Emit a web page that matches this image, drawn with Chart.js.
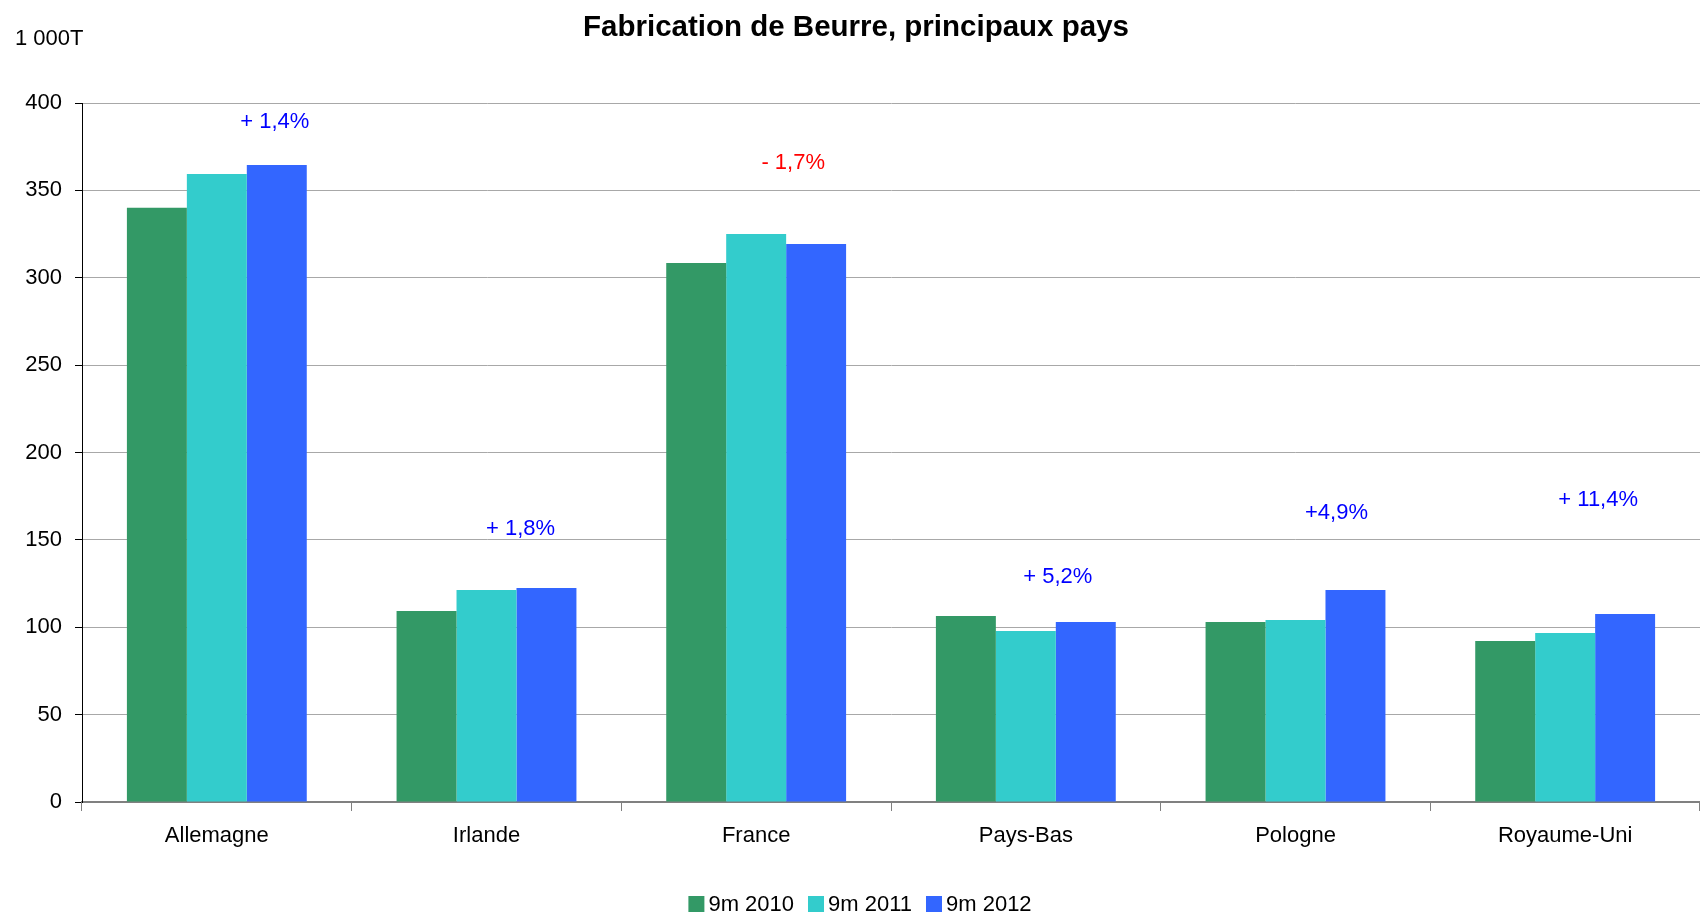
<!DOCTYPE html>
<html lang="fr">
<head>
<meta charset="utf-8">
<title>Fabrication de Beurre, principaux pays</title>
<script src="https://cdn.jsdelivr.net/npm/chart.js@4.4.1/dist/chart.umd.min.js"></script>
<style>
    html, body { margin: 0; padding: 0; background: #fff; }
    #wrap { width: 1700px; height: 916px; }
</style>
</head>
<body>
<div id="wrap"><canvas id="beurre" width="1700" height="916"></canvas></div>
<script>
// Production de beurre sur 9 mois, en milliers de tonnes
const pays = ["Allemagne", "Irlande", "France", "Pays-Bas", "Pologne", "Royaume-Uni"];
const series = ["9m 2010", "9m 2011", "9m 2012"];
const prod2010 = [340, 109.3, 308.4, 106.4, 103, 92.1];
const prod2011 = [359.4, 121.3, 325, 97.9, 104.1, 96.7];
const prod2012 = [364.5, 122.5, 319.3, 103, 121.3, 107.6];
const yTicks = [0, 50, 100, 150, 200, 250, 300, 350, 400];

// évolution 2012 / 2011, et hauteur (en 1000T) où l'écrire
const evolution = ["+ 1,4%", "+ 1,8%", "- 1,7%", "+ 5,2%", "+4,9%", "+ 11,4%"];
const evolutionAt = [389, 156, 365.7, 128.8, 165.4, 172.8];
const evolutionDx = [58, 34, 37, 32, 41, 33];

const couleurs = ["#339966", "#33cccc", "#3366ff"];
const FONT = "Liberation Sans, Arial, sans-serif";

const annotations = {
    id: "annotations",
    afterDraw(chart) {
        const ctx = chart.ctx;
        const x = chart.scales.x;
        const y = chart.scales.y;
        ctx.save();

        // titre
        ctx.fillStyle = "#000";
        ctx.font = "bold 29.5px " + FONT;
        ctx.textAlign = "center";
        ctx.textBaseline = "middle";
        ctx.fillText("Fabrication de Beurre, principaux pays", 856, 28);

        // unité
        ctx.font = "22px " + FONT;
        ctx.textAlign = "left";
        ctx.fillText("1 000T", 15, 39);

        // pourcentages au-dessus des groupes
        ctx.textAlign = "center";
        evolution.forEach((txt, i) => {
            ctx.fillStyle = txt.startsWith("-") ? "#ff0000" : "#0000ff";
            ctx.fillText(txt, x.getPixelForValue(i) + evolutionDx[i], y.getPixelForValue(evolutionAt[i]));
        });

        // légende
        const box = 16, gap = 4, itemGap = 14;
        ctx.font = "22px " + FONT;
        const widths = series.map(s => ctx.measureText(s).width);
        const total = widths.reduce((a, w) => a + box + gap + w, 0) + itemGap * (series.length - 1);
        let lx = 860 - total / 2;
        const ly = 904;
        ctx.textAlign = "left";
        series.forEach((s, i) => {
            ctx.fillStyle = couleurs[i];
            ctx.fillRect(lx, ly - box / 2, box, box);
            ctx.fillStyle = "#000";
            ctx.fillText(s, lx + box + gap, ly + 1);
            lx += box + gap + widths[i] + itemGap;
        });

        ctx.restore();
    }
};

const datasets = [prod2010, prod2011, prod2012].map((values, i) => ({
    label: series[i],
    data: values,
    backgroundColor: couleurs[i],
    borderWidth: 0,
    categoryPercentage: 0.667,
    barPercentage: 1.0,
}));

new Chart(document.getElementById("beurre"), {
    type: "bar",
    data: { labels: pays, datasets: datasets },
    plugins: [annotations],
    options: {
        responsive: false,
        devicePixelRatio: 1,
        animation: false,
        layout: { padding: { top: 103, left: 0, right: 0, bottom: 0 } },
        plugins: {
            legend: { display: false },
            title: { display: false },
            tooltip: { enabled: false },
        },
        scales: {
            x: {
                afterFit: (scale) => { scale.height = 114; },
                grid: {
                    offset: true,
                    drawOnChartArea: false,
                    tickLength: 9,
                    tickColor: "#808080",
                },
                border: { display: true, color: "#808080", width: 2 },
                ticks: {
                    color: "#000",
                    padding: 12,
                    font: { family: FONT, size: 22 },
                    maxRotation: 0,
                },
            },
            y: {
                min: 0,
                max: 400,
                afterFit: (scale) => { scale.width = 82; },
                afterBuildTicks: (scale) => { scale.ticks = yTicks.map(v => ({ value: v })); },
                grid: {
                    color: (c) => c.tick && c.tick.value === 0 ? "rgba(0,0,0,0)" : "#a8a8a8",
                    lineWidth: 1,
                    tickLength: 7,
                    tickColor: "#000",
                },
                border: { display: true, color: "#000", width: 1 },
                ticks: {
                    color: "#000",
                    padding: 13,
                    font: { family: FONT, size: 22 },
                },
            },
        },
    },
});
</script>
</body>
</html>
